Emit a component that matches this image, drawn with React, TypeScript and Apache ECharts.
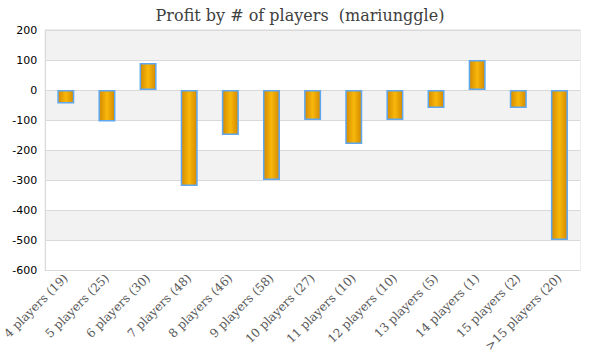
import React, { useEffect, useRef } from "react";
import * as echarts from "echarts";

const categories = [
  "4 players (19)",
  "5 players (25)",
  "6 players (30)",
  "7 players (48)",
  "8 players (46)",
  "9 players (58)",
  "10 players (27)",
  "11 players (10)",
  "12 players (10)",
  "13 players (5)",
  "14 players (1)",
  "15 players (2)",
  ">15 players (20)",
];
const profit = [-45, -105, 90, -320, -150, -300, -100, -180, -100, -60, 100, -60, -500];
const yTicks = { min: -600, max: 200, interval: 100 };

export default function App() {
  const ref = useRef<HTMLDivElement>(null);
  useEffect(() => {
    if (!ref.current) return;
    const chart = echarts.init(ref.current, undefined, { renderer: "svg" });
    const grad = new echarts.graphic.LinearGradient(0, 0, 1, 0, [
      { offset: 0, color: "#d48a00" },
      { offset: 0.5, color: "#f8b80a" },
      { offset: 1, color: "#d48a00" },
    ]);
    chart.setOption({
      animation: false,
      backgroundColor: "#ffffff",
      title: {
        text: "Profit by # of players  (mariunggle)",
        left: "center",
        top: 2,
        textStyle: {
          fontFamily: "DejaVu Serif",
          fontWeight: "normal",
          fontSize: 16,
          color: "#404040",
        },
      },
      grid: {
        left: 40,
        right: 20,
        top: 30,
        bottom: 90,
        show: true,
        borderColor: "#d9d9d9",
        borderWidth: 1,
        backgroundColor: "transparent",
      },
      xAxis: {
        type: "category",
        data: categories,
        axisLine: { onZero: false, lineStyle: { color: "#d9d9d9" } },
        axisTick: { show: false },
        axisLabel: {
          rotate: 45,
          interval: 0,
          fontFamily: "DejaVu Serif",
          fontSize: 12,
          color: "#595959",
          margin: 6,
        },
      },
      yAxis: {
        type: "value",
        min: yTicks.min,
        max: yTicks.max,
        interval: yTicks.interval,
        axisLine: { show: true, lineStyle: { color: "#d9d9d9" } },
        axisTick: { show: false },
        axisLabel: {
          fontFamily: "DejaVu Sans",
          fontSize: 11,
          color: "#000000",
          margin: 8,
        },
        splitLine: { lineStyle: { color: "#d9d9d9" } },
        splitArea: { show: true, areaStyle: { color: ["#ffffff", "#f2f2f2"] } },
      },
      series: [
        {
          type: "bar",
          data: profit,
          barWidth: 17,
          itemStyle: {
            color: grad,
            borderColor: "#5fa8f0",
            borderWidth: 1.5,
          },
        },
      ],
    });
    return () => chart.dispose();
  }, []);
  return <div ref={ref} style={{ width: 600, height: 360, position: "absolute", left: 0, top: 0 }} />;
}
